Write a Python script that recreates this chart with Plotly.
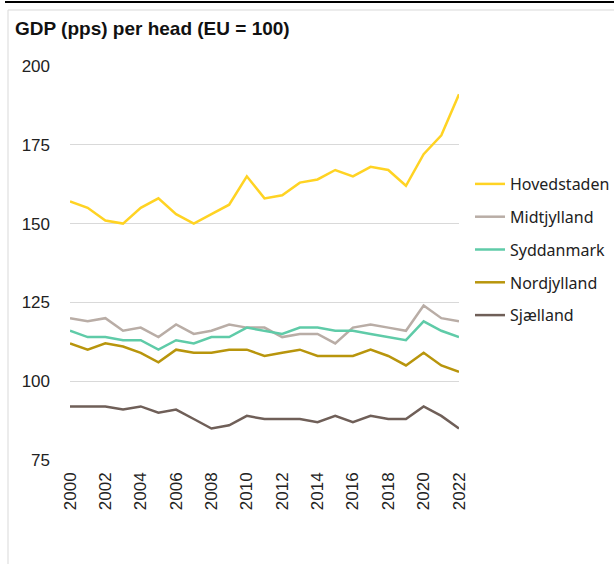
import plotly.graph_objects as go

years = list(range(2000, 2023))
hovedstaden = [157, 155, 151, 150, 155, 158, 153, 150, 153, 156, 165, 158, 159, 163, 164, 167, 165, 168, 167, 162, 172, 178, 191]
midtjylland = [120, 119, 120, 116, 117, 114, 118, 115, 116, 118, 117, 117, 114, 115, 115, 112, 117, 118, 117, 116, 124, 120, 119]
syddanmark = [116, 114, 114, 113, 113, 110, 113, 112, 114, 114, 117, 116, 115, 117, 117, 116, 116, 115, 114, 113, 119, 116, 114]
nordjylland = [112, 110, 112, 111, 109, 106, 110, 109, 109, 110, 110, 108, 109, 110, 108, 108, 108, 110, 108, 105, 109, 105, 103]
sjaelland = [92, 92, 92, 91, 92, 90, 91, 88, 85, 86, 89, 88, 88, 88, 87, 89, 87, 89, 88, 88, 92, 89, 85]

series = [
    ("Hovedstaden", hovedstaden, "#FFD323"),
    ("Midtjylland", midtjylland, "#B9ADA6"),
    ("Syddanmark", syddanmark, "#5FCBA8"),
    ("Nordjylland", nordjylland, "#B8950C"),
    ("Sjælland", sjaelland, "#6F5F58"),
]

W, H = 614, 564
L, R, T, B = 70, 459, 66, 460

def px(x):
    return (x - L) / (R - L)

def py(y):
    return (B - y) / (B - T)

fig = go.Figure()
for name, vals, col in series:
    fig.add_trace(go.Scatter(x=years, y=vals, name=name, mode="lines",
                             legendgroup=name,
                             line=dict(color=col, width=2.5)))

fig.update_layout(
    width=W, height=H, autosize=False,
    margin=dict(l=L, r=W - R, t=T, b=H - B, pad=0, autoexpand=False),
    plot_bgcolor="white", paper_bgcolor="white",
    font=dict(family="Liberation Sans, Arial", size=16, color="#222222"),
    showlegend=True,
    legend=dict(x=px(470), y=py(167), xanchor="left", yanchor="top",
                font=dict(family="Noto Sans", size=16, color="#222222"),
                tracegroupgap=9, bgcolor="rgba(0,0,0,0)"),
    annotations=[dict(text="<b>GDP (pps) per head (EU = 100)</b>", x=px(13), y=py(28),
                      xref="paper", yref="paper", xanchor="left", yanchor="middle",
                      showarrow=False,
                      font=dict(family="Liberation Sans, Arial", size=19, color="#111111"))],
    shapes=[
        dict(type="line", xref="paper", yref="paper", x0=px(5), x1=px(614), y0=py(2), y1=py(2),
             line=dict(color="#000000", width=2), layer="above"),
        dict(type="line", xref="paper", yref="paper", x0=px(8), x1=px(614), y0=py(10), y1=py(10),
             line=dict(color="#D9D9D9", width=1)),
        dict(type="line", xref="paper", yref="paper", x0=px(8), x1=px(8), y0=py(10), y1=py(564),
             line=dict(color="#D9D9D9", width=1)),
    ],
)
fig.update_xaxes(range=[2000, 2022], tickmode="array", tickvals=list(range(2000, 2023, 2)),
                 ticktext=[str(y) for y in range(2000, 2023, 2)],
                 tickangle=-90, showgrid=False, zeroline=False, showline=False,
                 ticks="", ticklabelstandoff=8, automargin=False,
                 tickfont=dict(size=17, color="#222222"))
fig.update_yaxes(range=[75, 200], tickvals=[75, 100, 125, 150, 175, 200],
                 showgrid=True, gridcolor="#D9D9D9", gridwidth=1, zeroline=False,
                 showline=False, ticks="", ticklabelstandoff=19, automargin=False,
                 tickfont=dict(size=17, color="#222222"))

fig.write_html("out.html", config={"displayModeBar": False, "responsive": False},
               post_script="document.body.style.margin='0';document.body.style.padding='0';document.body.style.overflow='hidden';")
